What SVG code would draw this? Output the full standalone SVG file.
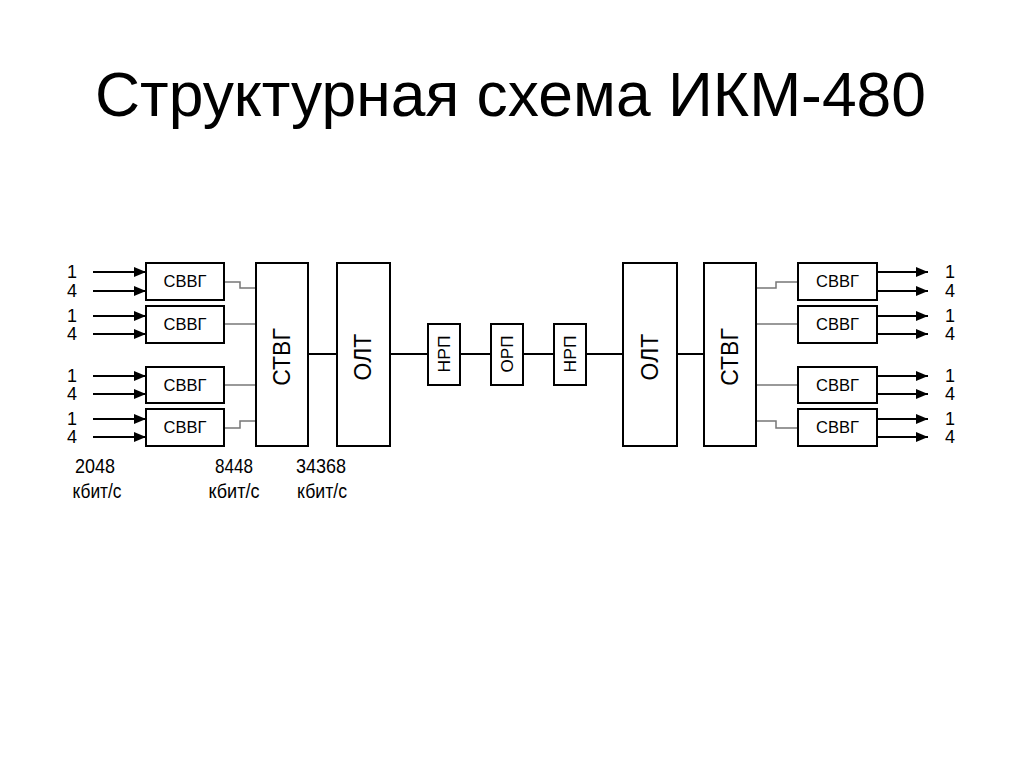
<svg xmlns="http://www.w3.org/2000/svg" width="1024" height="767" viewBox="0 0 1024 767">
<defs>
<marker id="ah" markerWidth="12" markerHeight="10" refX="12" refY="5" orient="auto" markerUnits="userSpaceOnUse">
<path d="M0,0 L12,5 L0,10 Z" fill="#000"/>
</marker>
<style>
text{font-family:"Liberation Sans",Arial,sans-serif;fill:#000}
.box{fill:#fff;stroke:#000;stroke-width:2}
.arr{stroke:#000;stroke-width:2;fill:none;marker-end:url(#ah)}
.gl{stroke:#777;stroke-width:1.5;fill:none}
.bl{stroke:#000;stroke-width:2;fill:none}
.lbl{font-size:18px;text-anchor:middle}
.sv{font-size:16.5px;text-anchor:middle}
.big{font-size:23px;text-anchor:middle}
.sm{font-size:17px;text-anchor:middle}
.rate{font-size:21px;text-anchor:middle}
</style>
</defs>
<rect width="1024" height="767" fill="#fff"/>
<text x="95" y="116" font-size="63" textLength="831" lengthAdjust="spacingAndGlyphs">Структурная схема ИКМ-480</text>

<g id="connectors">
<line class="arr" x1="93" y1="272" x2="146" y2="272"/>
<line class="arr" x1="93" y1="291" x2="146" y2="291"/>
<line class="arr" x1="93" y1="316" x2="146" y2="316"/>
<line class="arr" x1="93" y1="334" x2="146" y2="334"/>
<line class="arr" x1="93" y1="376" x2="146" y2="376"/>
<line class="arr" x1="93" y1="394" x2="146" y2="394"/>
<line class="arr" x1="93" y1="419" x2="146" y2="419"/>
<line class="arr" x1="93" y1="437" x2="146" y2="437"/>
<polyline class="gl" points="224,282 240,282 240,288 256,288"/>
<line class="gl" x1="224" y1="324" x2="256" y2="324"/>
<line class="gl" x1="224" y1="385" x2="256" y2="385"/>
<polyline class="gl" points="224,428 240,428 240,421 256,421"/>
<line class="bl" x1="308" y1="354" x2="337" y2="354"/>
<line class="bl" x1="390" y1="354" x2="428" y2="354"/>
<line class="bl" x1="460" y1="354" x2="491" y2="354"/>
<line class="bl" x1="523" y1="354" x2="554" y2="354"/>
<line class="bl" x1="586" y1="354" x2="623" y2="354"/>
<line class="bl" x1="677" y1="354" x2="704" y2="354"/>
<polyline class="gl" points="756,288 776,288 776,282 798,282"/>
<line class="gl" x1="756" y1="324" x2="798" y2="324"/>
<line class="gl" x1="756" y1="385" x2="798" y2="385"/>
<polyline class="gl" points="756,421 776,421 776,428 798,428"/>
<line class="arr" x1="877" y1="272" x2="928" y2="272"/>
<line class="arr" x1="877" y1="291" x2="928" y2="291"/>
<line class="arr" x1="877" y1="316" x2="928" y2="316"/>
<line class="arr" x1="877" y1="334" x2="928" y2="334"/>
<line class="arr" x1="877" y1="376" x2="928" y2="376"/>
<line class="arr" x1="877" y1="394" x2="928" y2="394"/>
<line class="arr" x1="877" y1="419" x2="928" y2="419"/>
<line class="arr" x1="877" y1="437" x2="928" y2="437"/>
</g>

<g id="in-labels">
<text class="lbl" x="72" y="278">1</text><text class="lbl" x="72" y="297">4</text>
<text class="lbl" x="72" y="322">1</text><text class="lbl" x="72" y="340">4</text>
<text class="lbl" x="72" y="382">1</text><text class="lbl" x="72" y="400">4</text>
<text class="lbl" x="72" y="425">1</text><text class="lbl" x="72" y="443">4</text>
</g>
<g id="out-labels">
<text class="lbl" x="950" y="278">1</text><text class="lbl" x="950" y="297">4</text>
<text class="lbl" x="950" y="322">1</text><text class="lbl" x="950" y="340">4</text>
<text class="lbl" x="950" y="382">1</text><text class="lbl" x="950" y="400">4</text>
<text class="lbl" x="950" y="425">1</text><text class="lbl" x="950" y="443">4</text>
</g>

<g id="svvg-l1"><rect class="box" x="146" y="263" width="78" height="37"/><text class="sv" x="185" y="287">СВВГ</text></g>
<g id="svvg-l2"><rect class="box" x="146" y="306" width="78" height="37"/><text class="sv" x="185" y="330">СВВГ</text></g>
<g id="svvg-l3"><rect class="box" x="146" y="367" width="78" height="36"/><text class="sv" x="185" y="391">СВВГ</text></g>
<g id="svvg-l4"><rect class="box" x="146" y="409" width="78" height="37"/><text class="sv" x="185" y="433">СВВГ</text></g>

<g id="stvg-l"><rect class="box" x="256" y="263" width="52" height="183"/><text class="big" transform="translate(290,357) rotate(-90)">СТВГ</text></g>
<g id="olt-l"><rect class="box" x="337" y="263" width="53" height="183"/><text class="big" transform="translate(371,357) rotate(-90)">ОЛТ</text></g>

<g id="nrp-1"><rect class="box" x="428" y="324" width="32" height="61"/><text class="sm" transform="translate(450,354) rotate(-90)" textLength="37" lengthAdjust="spacingAndGlyphs">НРП</text></g>
<g id="orp"><rect class="box" x="491" y="324" width="32" height="61"/><text class="sm" transform="translate(513,354) rotate(-90)" textLength="37" lengthAdjust="spacingAndGlyphs">ОРП</text></g>
<g id="nrp-2"><rect class="box" x="554" y="324" width="32" height="61"/><text class="sm" transform="translate(576,354) rotate(-90)" textLength="37" lengthAdjust="spacingAndGlyphs">НРП</text></g>

<g id="olt-r"><rect class="box" x="623" y="263" width="54" height="183"/><text class="big" transform="translate(658,357) rotate(-90)">ОЛТ</text></g>
<g id="stvg-r"><rect class="box" x="704" y="263" width="52" height="183"/><text class="big" transform="translate(738,357) rotate(-90)">СТВГ</text></g>

<g id="svvg-r1"><rect class="box" x="798" y="263" width="79" height="37"/><text class="sv" x="837.5" y="287">СВВГ</text></g>
<g id="svvg-r2"><rect class="box" x="798" y="306" width="79" height="37"/><text class="sv" x="837.5" y="330">СВВГ</text></g>
<g id="svvg-r3"><rect class="box" x="798" y="367" width="79" height="36"/><text class="sv" x="837.5" y="391">СВВГ</text></g>
<g id="svvg-r4"><rect class="box" x="798" y="409" width="79" height="37"/><text class="sv" x="837.5" y="433">СВВГ</text></g>

<g id="rates">
<text class="rate" x="95" y="473" textLength="40" lengthAdjust="spacingAndGlyphs">2048</text>
<text class="rate" x="97" y="498" textLength="49" lengthAdjust="spacingAndGlyphs">кбит/с</text>
<text class="rate" x="234" y="473" textLength="38" lengthAdjust="spacingAndGlyphs">8448</text>
<text class="rate" x="234" y="498" textLength="51" lengthAdjust="spacingAndGlyphs">кбит/с</text>
<text class="rate" x="321" y="473" textLength="50" lengthAdjust="spacingAndGlyphs">34368</text>
<text class="rate" x="322" y="498" textLength="50" lengthAdjust="spacingAndGlyphs">кбит/с</text>
</g>
</svg>
